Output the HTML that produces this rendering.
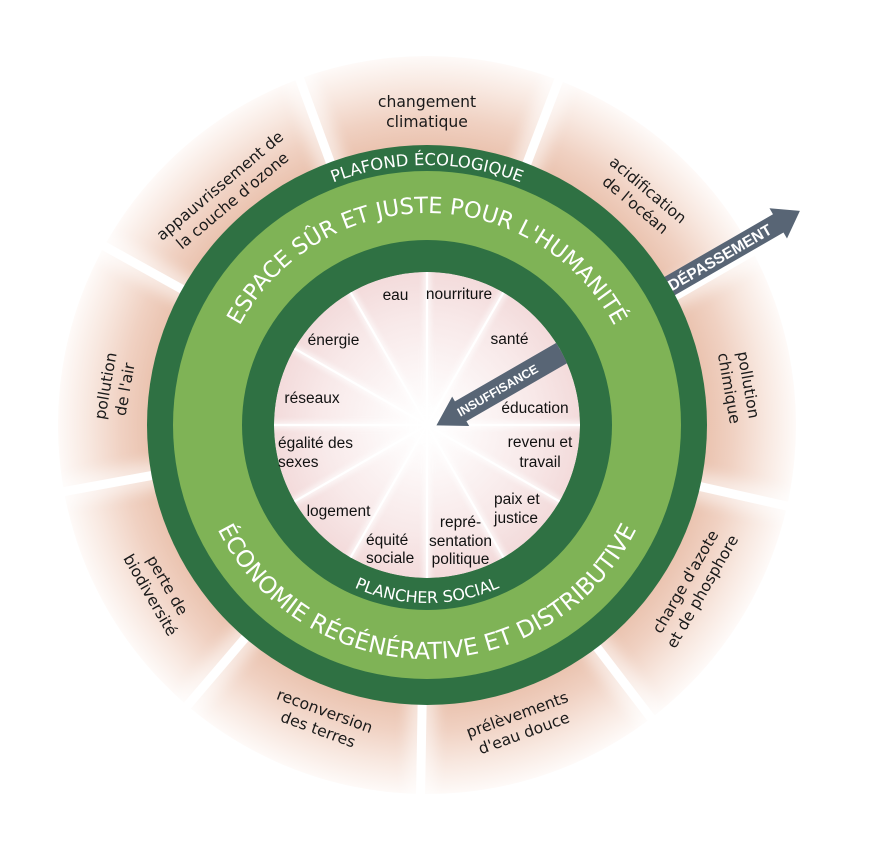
<!DOCTYPE html>
<html><head><meta charset="utf-8">
<style>
html,body{margin:0;padding:0;background:#fff;}
svg{display:block;}
.o{font-family:"DejaVu Sans","Liberation Sans",sans-serif;font-size:15.6px;fill:#1a1a1a;text-anchor:middle;}
.i{font-family:"Liberation Sans",Arial,sans-serif;font-size:15.5px;fill:#111;}
.m{text-anchor:middle;}
.r{font-family:"DejaVu Sans","Liberation Sans",sans-serif;fill:#fff;}
.a{font-family:"Liberation Sans",Arial,sans-serif;font-weight:bold;fill:#fff;}
</style></head><body>
<svg width="874" height="846" viewBox="0 0 874 846" xmlns="http://www.w3.org/2000/svg">
<defs>
<radialGradient id="sal" gradientUnits="userSpaceOnUse" cx="427" cy="425" r="369">
<stop offset="0.75" stop-color="#eac2ae"/>
<stop offset="0.83" stop-color="#f0d1c2"/>
<stop offset="0.92" stop-color="#f8e8e0"/>
<stop offset="1" stop-color="#fefaf8"/>
</radialGradient>
<radialGradient id="pink" gradientUnits="userSpaceOnUse" cx="427" cy="425" r="153">
<stop offset="0" stop-color="#ffffff"/>
<stop offset="0.25" stop-color="#fdf9f9"/>
<stop offset="0.7" stop-color="#f8e9e9"/>
<stop offset="1" stop-color="#f3dbdb"/>
</radialGradient>
<filter id="bl" x="-20%" y="-20%" width="140%" height="140%"><feGaussianBlur stdDeviation="7"/></filter>
<filter id="bl2" x="-20%" y="-20%" width="140%" height="140%"><feGaussianBlur stdDeviation="3"/></filter>
<clipPath id="disk"><circle cx="427" cy="425" r="153"/></clipPath>
<path id="pTop1" d="M 167 425 A 260 260 0 0 1 687 425"/>
<path id="pTop2" d="M 215 425 A 212 212 0 0 1 639 425"/>
<path id="pBot1" d="M 193 425 A 234 234 0 0 0 661 425"/>
<path id="pBot2" d="M 249 425 A 178 178 0 0 0 605 425"/>
</defs>

<!-- outer salmon segments -->
<circle cx="427" cy="425" r="369" fill="url(#sal)"/>
<g transform="translate(427,425)">
  <g filter="url(#bl)" opacity="0.55" stroke="#fff" stroke-width="28">
    <line x1="0" y1="-250" x2="0" y2="-400" transform="rotate(-20.2)"/>
    <line x1="0" y1="-250" x2="0" y2="-400" transform="rotate(20.9)"/>
    <line x1="0" y1="-250" x2="0" y2="-400" transform="rotate(102.7)"/>
    <line x1="0" y1="-250" x2="0" y2="-400" transform="rotate(142.6)"/>
    <line x1="0" y1="-250" x2="0" y2="-400" transform="rotate(181)"/>
    <line x1="0" y1="-250" x2="0" y2="-400" transform="rotate(220.5)"/>
    <line x1="0" y1="-250" x2="0" y2="-400" transform="rotate(259.6)"/>
    <line x1="0" y1="-250" x2="0" y2="-400" transform="rotate(299)"/>
    <line x1="0" y1="-250" x2="0" y2="-400" transform="rotate(62)"/>
  </g>
  <g stroke="#fff" stroke-width="9">
    <line x1="0" y1="-265" x2="0" y2="-380" transform="rotate(-20.2)"/>
    <line x1="0" y1="-265" x2="0" y2="-380" transform="rotate(20.9)"/>
    <line x1="0" y1="-265" x2="0" y2="-380" transform="rotate(102.7)"/>
    <line x1="0" y1="-265" x2="0" y2="-380" transform="rotate(142.6)"/>
    <line x1="0" y1="-265" x2="0" y2="-380" transform="rotate(181)"/>
    <line x1="0" y1="-265" x2="0" y2="-380" transform="rotate(220.5)"/>
    <line x1="0" y1="-265" x2="0" y2="-380" transform="rotate(259.6)"/>
    <line x1="0" y1="-265" x2="0" y2="-380" transform="rotate(299)"/>
  </g>
  <!-- DEPASSEMENT arrow -->
  <g transform="rotate(-30)">
    <rect x="265" y="8" width="115" height="9" fill="#fff"/>
    <polygon points="262,-9.5 405,-9.5 405,-16.5 430,1 405,18.5 405,11.5 262,11.5" fill="#586575"/>
    <text class="a" x="279" y="6.6" font-size="15.5">DÉPASSEMENT</text>
  </g>
</g>

<!-- rings -->
<circle cx="427" cy="425" r="280" fill="#2f7143"/>
<circle cx="427" cy="425" r="254" fill="#7fb356"/>
<circle cx="427" cy="425" r="185" fill="#2f7143"/>

<!-- inner disk -->
<g clip-path="url(#disk)">
  <circle cx="427" cy="425" r="153" fill="url(#pink)"/>
  <g transform="translate(427,425)">
    <g filter="url(#bl2)" opacity="0.7" stroke="#fff" stroke-width="7">
      <line x1="0" y1="0" x2="0" y2="-160"/>
      <line x1="0" y1="0" x2="0" y2="-160" transform="rotate(30)"/>
      <line x1="0" y1="0" x2="0" y2="-160" transform="rotate(60)"/>
      <line x1="0" y1="0" x2="0" y2="-160" transform="rotate(90)"/>
      <line x1="0" y1="0" x2="0" y2="-160" transform="rotate(120)"/>
      <line x1="0" y1="0" x2="0" y2="-160" transform="rotate(150)"/>
      <line x1="0" y1="0" x2="0" y2="-160" transform="rotate(180)"/>
      <line x1="0" y1="0" x2="0" y2="-160" transform="rotate(210)"/>
      <line x1="0" y1="0" x2="0" y2="-160" transform="rotate(240)"/>
      <line x1="0" y1="0" x2="0" y2="-160" transform="rotate(270)"/>
      <line x1="0" y1="0" x2="0" y2="-160" transform="rotate(300)"/>
      <line x1="0" y1="0" x2="0" y2="-160" transform="rotate(330)"/>
    </g>
    <g stroke="#fff" stroke-width="2.2">
      <line x1="0" y1="0" x2="0" y2="-160"/>
      <line x1="0" y1="0" x2="0" y2="-160" transform="rotate(30)"/>
      <line x1="0" y1="0" x2="0" y2="-160" transform="rotate(60)"/>
      <line x1="0" y1="0" x2="0" y2="-160" transform="rotate(90)"/>
      <line x1="0" y1="0" x2="0" y2="-160" transform="rotate(120)"/>
      <line x1="0" y1="0" x2="0" y2="-160" transform="rotate(150)"/>
      <line x1="0" y1="0" x2="0" y2="-160" transform="rotate(180)"/>
      <line x1="0" y1="0" x2="0" y2="-160" transform="rotate(210)"/>
      <line x1="0" y1="0" x2="0" y2="-160" transform="rotate(240)"/>
      <line x1="0" y1="0" x2="0" y2="-160" transform="rotate(270)"/>
      <line x1="0" y1="0" x2="0" y2="-160" transform="rotate(300)"/>
      <line x1="0" y1="0" x2="0" y2="-160" transform="rotate(330)"/>
    </g>
    <!-- INSUFFISANCE arrow -->
    <g transform="rotate(-30)">
      <polygon points="170,-6.5 36,-6.5 36,-12 8,5 36,22 36,16.5 170,16.5" fill="#586575"/>
      <text class="a" x="33" y="9.6" font-size="12.3">INSUFFISANCE</text>
    </g>
  </g>
</g>

<!-- ring texts -->
<text class="r" font-size="16.4" text-anchor="middle"><textPath href="#pTop1" startOffset="50%">PLAFOND ÉCOLOGIQUE</textPath></text>
<text class="r" font-size="22.5" text-anchor="middle" letter-spacing="-0.1"><textPath href="#pTop2" startOffset="50%">ESPACE SÛR ET JUSTE POUR L'HUMANITÉ</textPath></text>
<text class="r" font-size="23.4" text-anchor="middle"><textPath href="#pBot1" startOffset="50%">ÉCONOMIE RÉGÉNÉRATIVE ET DISTRIBUTIVE</textPath></text>
<text class="r" font-size="16" text-anchor="middle"><textPath href="#pBot2" startOffset="50%">PLANCHER SOCIAL</textPath></text>

<!-- outer labels -->
<text class="o" transform="translate(427,111.5)"><tspan x="0" y="-4.3">changement</tspan><tspan x="0" y="15.3">climatique</tspan></text>
<text class="o" transform="translate(641.8,197.3) rotate(40)"><tspan x="0" y="-4.3">acidification</tspan><tspan x="0" y="15.3">de l'océan</tspan></text>
<text class="o" transform="translate(739,386.5) rotate(80)"><tspan x="0" y="-4.3">pollution</tspan><tspan x="0" y="15.3">chimique</tspan></text>
<text class="o" transform="translate(693.7,586.5) rotate(-60)"><tspan x="0" y="-4.3">charge d'azote</tspan><tspan x="0" y="15.3">et de phosphore</tspan></text>
<text class="o" transform="translate(520.5,723.7) rotate(-20)"><tspan x="0" y="-4.3">prélèvements</tspan><tspan x="0" y="15.3">d'eau douce</tspan></text>
<text class="o" transform="translate(321.5,720) rotate(20)"><tspan x="0" y="-4.3">reconversion</tspan><tspan x="0" y="15.3">des terres</tspan></text>
<text class="o" transform="translate(159,590) rotate(60)"><tspan x="0" y="-4.3">perte de</tspan><tspan x="0" y="15.3">biodiversité</tspan></text>
<text class="o" transform="translate(115,387.5) rotate(-80)"><tspan x="0" y="-4.3">pollution</tspan><tspan x="0" y="15.3">de l'air</tspan></text>
<text class="o" transform="translate(226,193) rotate(-40)"><tspan x="0" y="-4.3">appauvrissement de</tspan><tspan x="0" y="15.3">la couche d'ozone</tspan></text>

<!-- inner labels -->
<text class="i m" x="395.5" y="300">eau</text>
<text class="i m" x="459" y="299">nourriture</text>
<text class="i m" x="333.5" y="345">énergie</text>
<text class="i m" x="509.5" y="344">santé</text>
<text class="i m" x="312" y="403">réseaux</text>
<text class="i m" x="535" y="413">éducation</text>
<text class="i" x="278" y="448">égalité des</text>
<text class="i" x="278" y="467">sexes</text>
<text class="i m" x="540" y="447">revenu et</text>
<text class="i m" x="540" y="467">travail</text>
<text class="i m" x="338.5" y="516">logement</text>
<text class="i" x="494" y="504">paix et</text>
<text class="i" x="494" y="523">justice</text>
<text class="i" x="366" y="545">équité</text>
<text class="i" x="366" y="563">sociale</text>
<text class="i m" x="460.5" y="527">repré-</text>
<text class="i m" x="460.5" y="546">sentation</text>
<text class="i m" x="460.5" y="564">politique</text>
</svg>
</body></html>
